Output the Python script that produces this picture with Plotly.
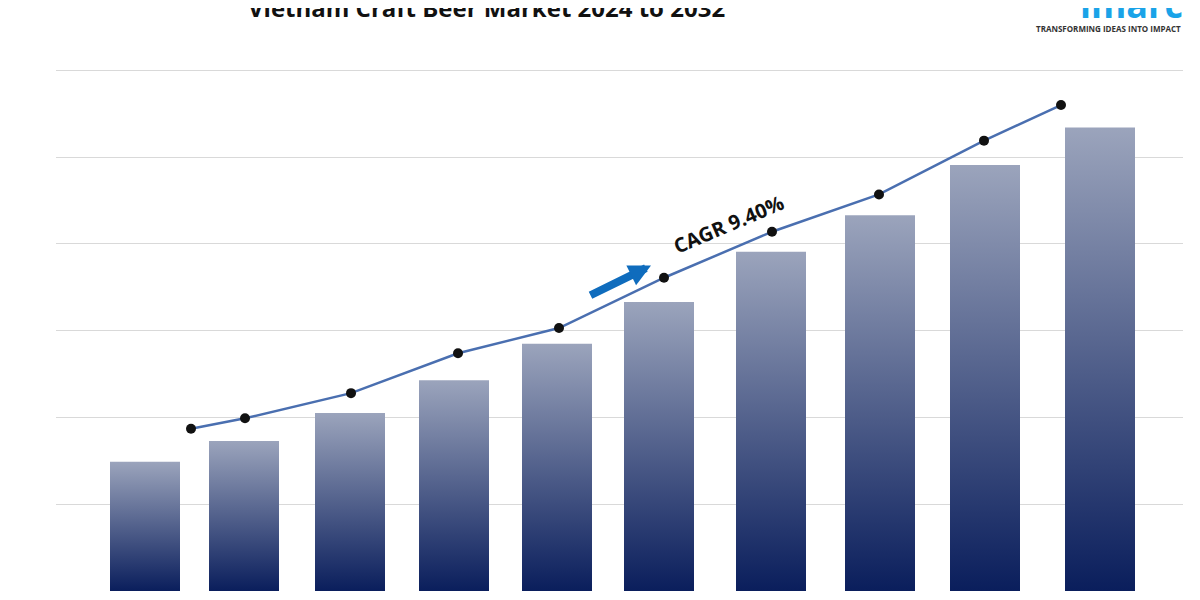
import plotly.graph_objects as go

years = ["2023", "2024", "2025", "2026", "2027", "2028", "2029", "2030", "2031", "2032"]
bar_x = [144, 243, 349, 453, 556, 658, 770, 879, 984, 1099]
bar_values = [1.49, 1.73, 2.05, 2.43, 2.85, 3.33, 3.91, 4.33, 4.91, 5.34]
line_x = [190, 244, 350, 457, 558, 663, 771, 878, 983, 1060]
line_values = [1.87, 1.99, 2.28, 2.74, 3.03, 3.61, 4.14, 4.57, 5.19, 5.60]
bar_half_width = 35

fig = go.Figure()
for xc, v, yr in zip(bar_x, bar_values, years):
    fig.add_trace(go.Scatter(
        x=[xc - bar_half_width, xc + bar_half_width, xc + bar_half_width, xc - bar_half_width, xc - bar_half_width],
        y=[0, 0, v, v, 0], mode="lines", line=dict(width=0), fill="toself",
        fillgradient=dict(type="vertical", colorscale=[[0, "#0a1e5c"], [1, "#9ba4bc"]]),
        name=yr, showlegend=False, hoverinfo="skip"))

fig.add_trace(go.Scatter(x=line_x, y=line_values, mode="lines+markers",
                         line=dict(color="#4a6fb0", width=2.5),
                         marker=dict(color="#111111", size=10), showlegend=False))

fig.add_annotation(x=650, y=3.75, ax=588, ay=3.4, xref="x", yref="y", axref="x", ayref="y",
                   text="", showarrow=True, arrowhead=2, arrowsize=0.55, arrowwidth=8,
                   arrowcolor="#0f6cbd")
fig.add_annotation(x=727, y=4.22, xref="x", yref="y", text="<b>CAGR 9.40%</b>",
                   showarrow=False, textangle=-23, font=dict(size=20, color="#111111"))

fig.add_annotation(x=485, y=1.0, xref="x", yref="paper", yanchor="middle", yshift=59,
                   text="<b>Vietnam Craft Beer Market 2024 to 2032</b>", showarrow=False,
                   font=dict(size=24, color="#111111"))
fig.add_annotation(x=1, y=1.0, xref="paper", yref="paper", xanchor="right", yanchor="middle",
                   xshift=2, yshift=62, text="<b>imarc</b>", showarrow=False,
                   font=dict(size=36, color="#1aa3e8"))
fig.add_annotation(x=1, y=1.0, xref="paper", yref="paper", xanchor="right", yanchor="middle",
                   yshift=38, text="<b>TRANSFORMING IDEAS INTO IMPACT</b>", showarrow=False,
                   font=dict(size=8, color="#333333"))

fig.update_layout(
    width=1200, height=600, margin=dict(l=48, r=25, t=58, b=17),
    paper_bgcolor="white", plot_bgcolor="white",
    font=dict(family="Open Sans, sans-serif"),
    xaxis=dict(range=[55, 1182], visible=False),
    yaxis=dict(range=[0, 6.05], dtick=1, showticklabels=False, gridcolor="#d9d9d9",
               gridwidth=1, zeroline=False),
)
fig.write_html("out.html")
